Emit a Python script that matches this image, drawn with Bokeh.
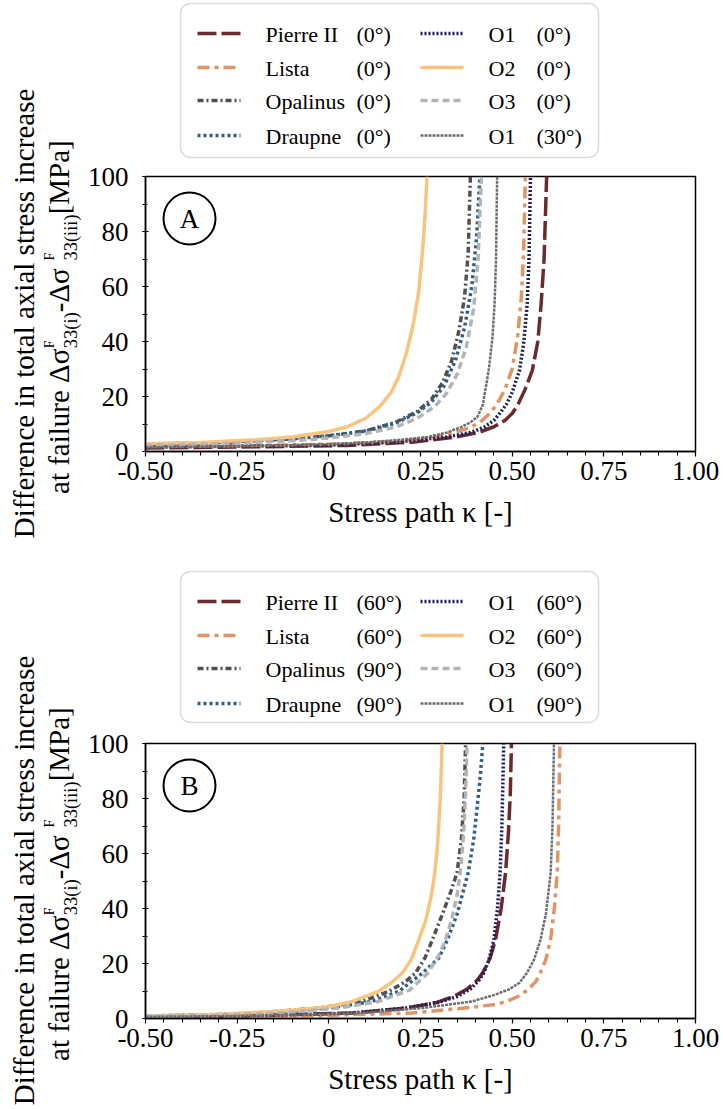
import math

from bokeh.embed import file_html
from bokeh.layouts import column, row
from bokeh.models import BoxAnnotation, FixedTicker, Label, Range1d
from bokeh.plotting import figure
from bokeh.resources import INLINE

FONT = "Liberation Serif"

# ---------------------------------------------------------------------------
# Data: stress path kappa [-] and difference in total axial stress increase
# at failure [MPa] for each rock / bedding orientation.
# ---------------------------------------------------------------------------
names = ["Pierre II", "Lista", "Opalinus", "Draupne", "O1", "O2", "O3", "O1"]
angles_a = ["(0°)", "(0°)", "(0°)", "(0°)", "(0°)", "(0°)", "(0°)", "(30°)"]
angles_b = ["(60°)", "(60°)", "(90°)", "(90°)", "(60°)", "(60°)", "(60°)", "(90°)"]

# Panel A
pierre_a_k = [-0.5, -0.25, 0.05, 0.227, 0.345, 0.41, 0.45, 0.48, 0.5, 0.515, 0.535, 0.555, 0.57, 0.579, 0.587, 0.594]
pierre_a_v = [1.3, 1.6, 2.2, 3.4, 5.2, 7.0, 9.0, 11.3, 13.8, 16.8, 22.5, 29.5, 40.0, 53.7, 70.0, 100.0]
lista_a_k = [-0.5, -0.3, -0.1, 0.05, 0.2, 0.29, 0.345, 0.39, 0.418, 0.44, 0.459, 0.48, 0.5, 0.515, 0.525, 0.531, 0.536]
lista_a_v = [1.8, 2.0, 2.4, 2.8, 3.8, 5.2, 7.0, 9.0, 11.3, 14.0, 17.3, 22.5, 30.0, 42.0, 56.0, 72.0, 100.0]
opal_a_k = [-0.5, -0.3, -0.1, 0.0, 0.1, 0.18, 0.24, 0.28, 0.31, 0.335, 0.355, 0.37, 0.38, 0.386]
opal_a_v = [2.6, 3.3, 4.6, 5.7, 7.5, 10.5, 14.5, 19.0, 25.0, 33.0, 44.0, 56.0, 72.0, 100.0]
draup_a_k = [-0.5, -0.3, -0.1, 0.0, 0.1, 0.18, 0.24, 0.28, 0.315, 0.345, 0.37, 0.39, 0.403, 0.412]
draup_a_v = [2.7, 3.3, 4.6, 5.7, 7.4, 10.2, 14.0, 18.0, 24.0, 33.0, 45.0, 60.0, 78.0, 100.0]
o1_a_k = [-0.5, -0.25, 0.0, 0.18, 0.318, 0.39, 0.425, 0.45, 0.47, 0.485, 0.5, 0.52, 0.532, 0.541, 0.546, 0.55]
o1_a_v = [1.6, 1.9, 2.3, 3.4, 5.2, 7.0, 9.0, 11.3, 14.5, 17.3, 21.5, 29.5, 40.0, 53.7, 70.0, 100.0]
o2_a_k = [-0.5, -0.35, -0.2, -0.1, 0.0, 0.05, 0.1, 0.14, 0.17, 0.19, 0.21, 0.23, 0.245, 0.255, 0.262, 0.268]
o2_a_v = [2.8, 3.3, 4.3, 5.3, 7.3, 9.0, 12.0, 16.5, 21.5, 27.0, 35.0, 46.0, 58.0, 72.0, 85.0, 100.0]
o3_a_k = [-0.5, -0.3, -0.1, 0.0, 0.1, 0.18, 0.24, 0.29, 0.32, 0.35, 0.375, 0.395, 0.407, 0.416]
o3_a_v = [2.2, 2.8, 3.9, 4.9, 6.5, 8.8, 12.0, 16.5, 21.0, 28.0, 38.0, 52.0, 70.0, 100.0]
o1s_a_k = [-0.5, -0.3, -0.1, 0.0, 0.1, 0.2, 0.27, 0.32, 0.36, 0.385, 0.405, 0.42, 0.436, 0.446, 0.452, 0.456, 0.459]
o1s_a_v = [1.5, 1.8, 2.3, 2.7, 3.3, 4.3, 5.3, 6.8, 8.8, 10.5, 12.5, 17.0, 29.5, 41.0, 53.7, 70.0, 100.0]

# Panel B
pierre_b_k = [-0.5, -0.2, 0.064, 0.209, 0.291, 0.34, 0.377, 0.405, 0.42, 0.44, 0.455, 0.47, 0.482, 0.49, 0.495, 0.498]
pierre_b_v = [0.6, 1.0, 2.0, 3.8, 5.7, 8.0, 10.7, 14.0, 16.7, 22.0, 28.9, 40.0, 53.0, 68.0, 82.0, 100.0]
lista_b_k = [-0.5, -0.1, 0.227, 0.37, 0.46, 0.49, 0.52, 0.545, 0.565, 0.577, 0.592, 0.605, 0.615, 0.623, 0.627, 0.63]
lista_b_v = [0.4, 0.8, 2.0, 3.8, 5.2, 6.5, 8.3, 10.7, 13.5, 16.7, 21.5, 28.9, 40.0, 53.0, 72.0, 100.0]
opal_b_k = [-0.5, -0.3, -0.2, -0.027, 0.09, 0.164, 0.21, 0.236, 0.262, 0.282, 0.31, 0.335, 0.35, 0.362, 0.369, 0.373]
opal_b_v = [0.9, 1.5, 2.0, 3.8, 6.2, 9.9, 13.5, 16.5, 22.0, 28.5, 38.0, 47.0, 53.2, 66.0, 80.0, 100.0]
draup_b_k = [-0.5, -0.3, -0.15, 0.0, 0.118, 0.191, 0.255, 0.3, 0.323, 0.35, 0.38, 0.395, 0.405, 0.413, 0.42]
draup_b_v = [0.9, 1.4, 2.2, 3.8, 6.2, 9.9, 16.5, 22.0, 28.5, 38.0, 53.0, 65.0, 77.5, 88.0, 100.0]
o1_b_k = [-0.5, -0.2, 0.064, 0.209, 0.3, 0.35, 0.386, 0.41, 0.423, 0.436, 0.45, 0.46, 0.467, 0.472, 0.477]
o1_b_v = [0.6, 1.0, 2.0, 3.8, 5.9, 8.0, 10.7, 14.0, 16.7, 21.0, 28.5, 40.0, 53.0, 70.0, 100.0]
o2_b_k = [-0.5, -0.3, -0.1, 0.0, 0.064, 0.136, 0.17, 0.2, 0.225, 0.245, 0.265, 0.28, 0.289, 0.297, 0.304, 0.309]
o2_b_v = [0.9, 1.5, 3.0, 4.3, 6.2, 9.9, 13.0, 16.5, 21.5, 28.5, 36.0, 45.0, 53.0, 64.0, 80.0, 100.0]
o3_b_k = [-0.5, -0.3, -0.136, 0.027, 0.136, 0.22, 0.27, 0.3, 0.318, 0.335, 0.35, 0.36, 0.368, 0.373, 0.377]
o3_b_v = [0.8, 1.2, 2.0, 3.8, 6.2, 10.3, 16.5, 23.0, 28.5, 36.0, 45.0, 55.0, 68.0, 82.0, 100.0]
o1s_b_k = [-0.5, -0.2, 0.09, 0.255, 0.39, 0.45, 0.49, 0.52, 0.541, 0.56, 0.577, 0.592, 0.605, 0.61, 0.614]
o1s_b_v = [0.6, 1.0, 2.0, 3.8, 6.2, 8.5, 10.5, 13.0, 16.7, 21.5, 28.5, 38.0, 53.0, 70.0, 100.0]

series_a = [(pierre_a_k, pierre_a_v), (lista_a_k, lista_a_v), (opal_a_k, opal_a_v), (draup_a_k, draup_a_v),
            (o1_a_k, o1_a_v), (o2_a_k, o2_a_v), (o3_a_k, o3_a_v), (o1s_a_k, o1s_a_v)]
series_b = [(pierre_b_k, pierre_b_v), (lista_b_k, lista_b_v), (opal_b_k, opal_b_v), (draup_b_k, draup_b_v),
            (o1_b_k, o1_b_v), (o2_b_k, o2_b_v), (o3_b_k, o3_b_v), (o1s_b_k, o1s_b_v)]

x_ticks = [-0.5, -0.25, 0.0, 0.25, 0.5, 0.75, 1.0]
x_tick_labels = ["-0.50", "-0.25", "0", "0.25", "0.50", "0.75", "1.00"]
y_ticks = [0, 20, 40, 60, 80, 100]

# line styles, one per series (colour, dash, width)
styles = [
    ("#6b2a2e", "19 5", 3.5),
    ("#df9566", "12 5 4 5", 3.5),
    ("#505050", "6 3 2 3", 3.5),
    ("#2f5f8a", "3 3", 3.5),
    ("#1c1f5c", "2 2", 3.5),
    ("#f9c47f", "solid", 3.5),
    ("#b4b4b4", "7 4", 3.5),
    ("#6e6e6e", "3 1", 2.5),
]

# ---------------------------------------------------------------------------
# Page layout (pixels, measured from the top-left of the page)
# ---------------------------------------------------------------------------
PAGE_W, PAGE_H = 723, 1109
SIDE_W = 82                     # strip holding the rotated y titles
MAIN_W = PAGE_W - SIDE_W
FRAME_L, FRAME_R, FRAME_H = 145, 28, 275
PANEL_A = dict(leg_top=0, leg_h=160, plot_h=395, bottom=104, box=(3, 157), centre=313)
PANEL_B = dict(leg_top=555, leg_h=172, plot_h=382, bottom=91, box=(571, 722), centre=880)

# Times / Liberation Serif advance widths (1/1000 em)
ADV = {' ': 250, 'a': 444, 't': 278, 'f': 333, 'i': 278, 'l': 278, 'u': 500, 'r': 333,
       'e': 444, '-': 333, '[': 333, ']': 333, 'M': 889, 'P': 556, '(': 333, ')': 333,
       '3': 500, 'F': 556, 'Δ': 612, 'σ': 550, 'D': 722, 'n': 500, 'c': 444, 'o': 500,
       'x': 500, 's': 389}
MID = 0.3375   # distance of the text-box middle above the baseline, in em


def text_width(s, size):
    return sum(ADV.get(c, 500) for c in s) / 1000.0 * size


def blank_figure(width, height, x0, x1, y_top, y_bottom):
    """Axis-less figure whose data coordinates are page pixels."""
    p = figure(width=width, height=height, output_backend="svg", toolbar_location=None,
               x_range=Range1d(x0, x1), y_range=Range1d(y_bottom, y_top),
               x_axis_type=None, y_axis_type=None,
               min_border_left=0, min_border_right=0, min_border_top=0, min_border_bottom=0)
    p.outline_line_color = None
    p.grid.visible = False
    p.background_fill_color = "white"
    p.border_fill_color = "white"
    return p


def label(p, x, y, text, size, align="left", angle=0.0):
    p.add_layout(Label(x=x, y=y, text=text, text_font=FONT, text_font_size=f"{size}px",
                       text_color="black", text_align=align, text_baseline="middle", angle=angle))


def vlabel(p, baseline_x, y, text, size, align="left"):
    """Text reading bottom-to-top whose baseline lies on the vertical line x = baseline_x."""
    label(p, baseline_x - MID * size, y, text, size, align=align, angle=math.pi / 2)


def y_title(p, centre):
    big, sub_size, sup_size = 29, 18.5, 14
    vlabel(p, 33, centre, "Difference in total axial stress increase", big, align="center")
    base = 68
    pieces = [("main", "at failure Δσ"), ("script", ("33(i)", "F")), ("main", " -Δσ"),
              ("script", ("33(iii)", "F")), ("main", " [MPa]")]

    def adv(kind, t):
        if kind == "main":
            return text_width(t, big)
        return max(text_width(t[0], sub_size), text_width(t[1], sup_size)) + 1

    total = sum(adv(k, t) for k, t in pieces)
    pos = centre + total / 2
    for kind, t in pieces:
        if kind == "main":
            vlabel(p, base, pos, t, big)
        else:
            sub, sup = t
            vlabel(p, base + 8.5, pos - 1, sub, sub_size)
            vlabel(p, base - 14, pos - 1, sup, sup_size)
        pos -= adv(kind, t)


def legend_figure(panel, angles):
    top = panel["leg_top"]
    # the frame of this figure lines up with the plot frame below it (page x 145..695)
    p = blank_figure(MAIN_W, panel["leg_h"], FRAME_L, PAGE_W - FRAME_R, top, top + panel["leg_h"])
    box_top, box_bottom = panel["box"]
    p.add_layout(BoxAnnotation(left=180, right=598, top=box_top, bottom=box_bottom,
                               fill_color="white", fill_alpha=1.0, line_color="#8a8a8a",
                               line_width=1.5, border_radius=10, level="underlay"))
    rows = [box_top + 30, box_top + 64, box_top + 97, box_top + 132]
    col_sample = [(197, 240), (420, 463)]
    col_name = [265, 488]
    col_angle = [356, 536]
    for i, (name, ang) in enumerate(zip(names, angles)):
        c, r = divmod(i, 4)
        color, dash, width = styles[i]
        y = rows[r]
        p.line(list(col_sample[c]), [y, y], line_color=color, line_dash=dash, line_width=width)
        label(p, col_name[c], y + 1, name, 22)
        label(p, col_angle[c], y + 1, ang, 22)
    return p


def plot_figure(panel, series, letter):
    p = figure(width=MAIN_W, height=panel["plot_h"], x_range=(-0.5, 1.0), y_range=(0, 100),
               output_backend="svg", toolbar_location=None,
               min_border_left=FRAME_L - SIDE_W, min_border_right=FRAME_R,
               min_border_top=panel["plot_h"] - FRAME_H - panel["bottom"],
               min_border_bottom=panel["bottom"])
    p.background_fill_color = "white"
    p.border_fill_color = "white"
    p.grid.visible = False
    p.outline_line_color = "black"
    p.outline_line_width = 1.5

    p.xaxis.ticker = FixedTicker(ticks=x_ticks, minor_ticks=[round(-0.5 + 0.05 * i, 2) for i in range(31)])
    p.xaxis.major_label_overrides = {t: l for t, l in zip(x_ticks, x_tick_labels)}
    p.yaxis.ticker = FixedTicker(ticks=y_ticks, minor_ticks=list(range(0, 101, 10)))
    for ax in (p.xaxis, p.yaxis):
        ax.axis_line_color = "black"
        ax.axis_line_width = 1.5
        ax.major_tick_line_color = "black"
        ax.minor_tick_line_color = "black"
        ax.major_tick_line_width = 1.2
        ax.minor_tick_line_width = 1.0
        ax.major_label_text_font = FONT
        ax.major_label_text_font_size = "27px"
        ax.major_label_text_color = "black"
    p.xaxis.major_tick_in = 0
    p.xaxis.major_tick_out = 5
    p.xaxis.minor_tick_in = 0
    p.xaxis.minor_tick_out = 4
    p.xaxis.major_label_standoff = 5
    p.yaxis.major_tick_in = 3
    p.yaxis.major_tick_out = 3
    p.yaxis.minor_tick_in = 2
    p.yaxis.minor_tick_out = 3
    p.yaxis.major_label_standoff = 14

    p.xaxis.axis_label = "Stress path κ [-]"
    p.xaxis.axis_label_text_font = FONT
    p.xaxis.axis_label_text_font_size = "29px"
    p.xaxis.axis_label_text_font_style = "normal"
    p.xaxis.axis_label_text_color = "black"
    p.xaxis.axis_label_standoff = 13

    for (k, v), (color, dash, width) in zip(series, styles):
        p.line(k, v, line_color=color, line_dash=dash, line_width=width)

    # panel letter in a circle (centre given as pixel offset from the frame's top-left)
    dx, dy = 44, 42
    frame_w = PAGE_W - FRAME_L - FRAME_R
    cx = -0.5 + dx / frame_w * 1.5
    cy = 100 - dy / FRAME_H * 100
    p.scatter([cx], [cy], marker="circle", size=52, fill_color=None, line_color="black", line_width=2)
    p.add_layout(Label(x=cx, y=cy, text=letter, text_font=FONT, text_font_size="27px",
                       text_align="center", text_baseline="middle", text_color="black"))
    return p


side = blank_figure(SIDE_W, PAGE_H, 0, SIDE_W, 0, PAGE_H)
y_title(side, PANEL_A["centre"])
y_title(side, PANEL_B["centre"])

main = column(legend_figure(PANEL_A, angles_a), plot_figure(PANEL_A, series_a, "A"),
              legend_figure(PANEL_B, angles_b), plot_figure(PANEL_B, series_b, "B"), spacing=0)
layout = row(side, main, spacing=0)
open("out.html", "w").write(file_html(layout, INLINE))
